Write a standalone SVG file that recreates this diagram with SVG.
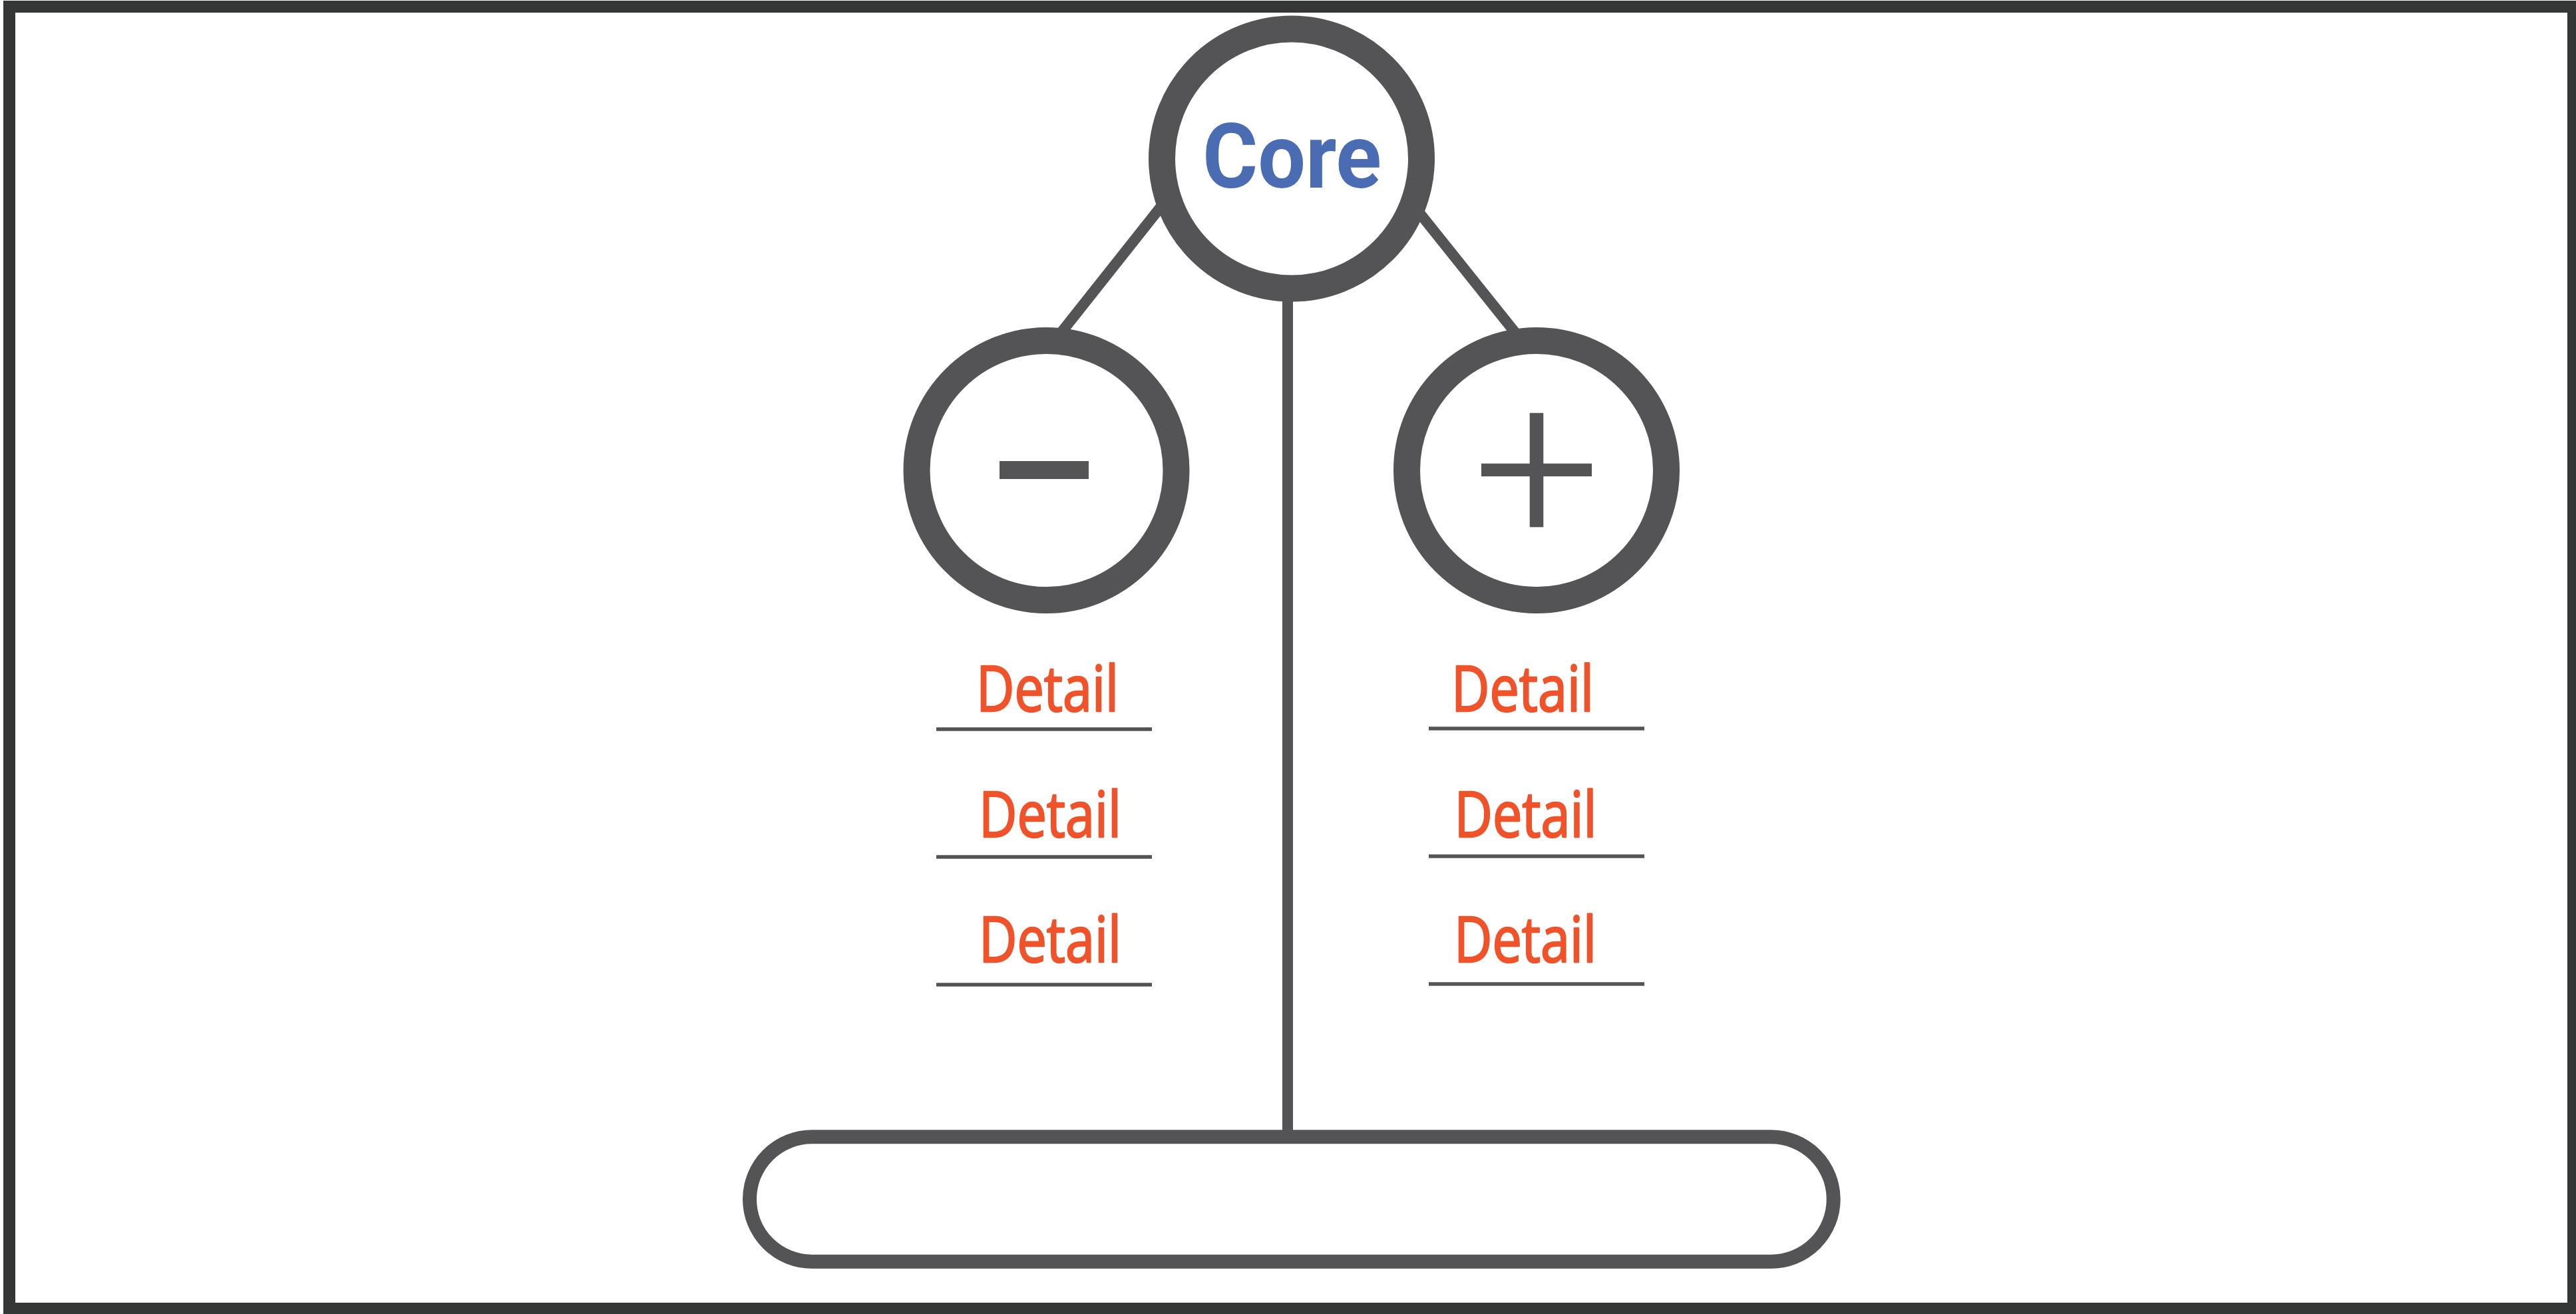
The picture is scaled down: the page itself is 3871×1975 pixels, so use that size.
<svg xmlns="http://www.w3.org/2000/svg" width="3871" height="1975" viewBox="0 0 3871 1975">
<style>
.ring{fill:#ffffff;stroke:#545456;stroke-width:40}
.conn{stroke:#545456;stroke-width:16;fill:none}
.rule{stroke:#545456;stroke-width:5.5}
.detail{font-family:"Open Sans","Liberation Sans",sans-serif;font-size:95px;fill:#F0522A;stroke:#F0522A;stroke-width:2.5;stroke-linejoin:round;text-anchor:middle}
.core{font-family:Roboto,"Liberation Sans",sans-serif;font-weight:bold;font-size:136px;fill:#4A6CB3;text-anchor:middle}
.sign{fill:#545456}
</style>
<rect x="0" y="0" width="3871" height="1975" fill="#ffffff"/>
<rect id="frame" x="14" y="10" width="3853" height="1957" fill="none" stroke="#353736" stroke-width="18"/>
<g id="connectors">
<line class="conn" x1="1590.5" y1="505" x2="1753" y2="300"/>
<line class="conn" x1="2281" y1="505" x2="2121" y2="305"/>
<line class="conn" x1="1935" y1="420" x2="1935" y2="1705"/>
</g>
<g id="base">
<rect x="1126.5" y="1708.8" width="1628.7" height="187.4" rx="93.7" ry="93.7" fill="#ffffff" stroke="#545456" stroke-width="21"/>
</g>
<g id="core">
<circle class="ring" cx="1941" cy="238.5" r="195"/>
<text class="core" x="1941.5" y="282" textLength="269" lengthAdjust="spacingAndGlyphs">Core</text>
</g>
<g id="minus">
<circle class="ring" cx="1572.5" cy="707" r="195"/>
<rect class="sign" x="1502" y="693" width="134" height="27"/>
</g>
<g id="plus">
<circle class="ring" cx="2309" cy="707" r="195"/>
<rect class="sign" x="2298.7" y="620.7" width="20.6" height="171.6"/>
<rect class="sign" x="2226" y="696.7" width="166" height="19.3"/>
</g>
<g id="minus-details">
<text class="detail" x="1574" y="1069" textLength="214" lengthAdjust="spacingAndGlyphs">Detail</text>
<line class="rule" x1="1407" y1="1096" x2="1731" y2="1096"/>
<text class="detail" x="1578" y="1258" textLength="214" lengthAdjust="spacingAndGlyphs">Detail</text>
<line class="rule" x1="1407" y1="1288" x2="1731" y2="1288"/>
<text class="detail" x="1578" y="1446" textLength="214" lengthAdjust="spacingAndGlyphs">Detail</text>
<line class="rule" x1="1407" y1="1480" x2="1731" y2="1480"/>
</g>
<g id="plus-details">
<text class="detail" x="2288" y="1069" textLength="214" lengthAdjust="spacingAndGlyphs">Detail</text>
<line class="rule" x1="2147" y1="1095" x2="2471" y2="1095"/>
<text class="detail" x="2292.5" y="1258" textLength="214" lengthAdjust="spacingAndGlyphs">Detail</text>
<line class="rule" x1="2147" y1="1287" x2="2471" y2="1287"/>
<text class="detail" x="2292" y="1446" textLength="214" lengthAdjust="spacingAndGlyphs">Detail</text>
<line class="rule" x1="2147" y1="1479" x2="2471" y2="1479"/>
</g>
</svg>
